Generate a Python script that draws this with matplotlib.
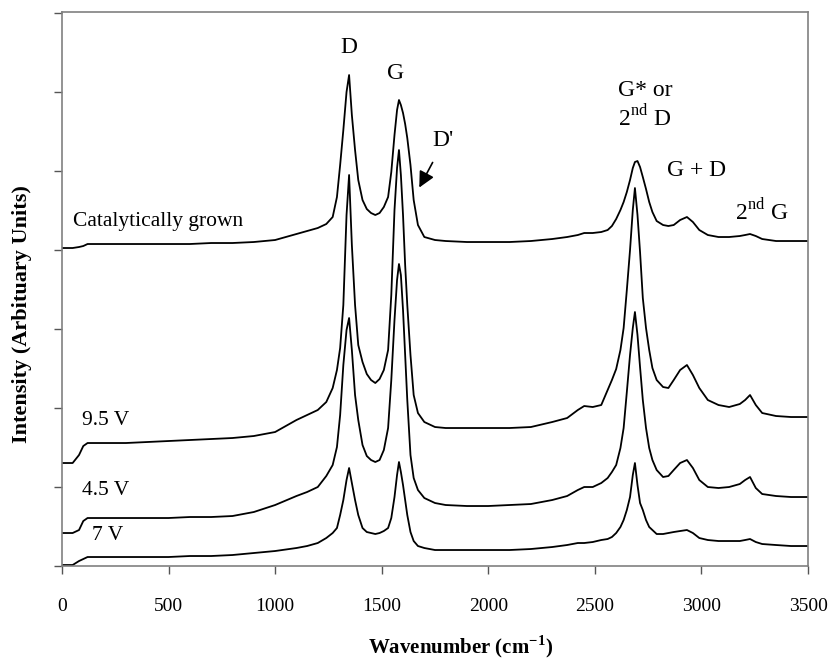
import numpy as np
import matplotlib
matplotlib.use("Agg")
import matplotlib.pyplot as plt

# Fuentes tipo Times, como en la figura original
plt.rcParams['font.family'] = ['Liberation Serif', 'DejaVu Serif']
plt.rcParams['mathtext.fontset'] = 'custom'
plt.rcParams['mathtext.rm'] = 'Liberation Serif'
plt.rcParams['mathtext.bf'] = 'Liberation Serif:bold'

# Eje x comun (cm-1)
wavenumber = [0, 50, 80, 100, 120, 200, 300, 400, 500, 600,
              700, 800, 900, 1000, 1100, 1150, 1200, 1240, 1270, 1290,
              1305, 1320, 1335, 1347, 1360, 1375, 1390, 1410, 1430, 1450,
              1470, 1490, 1510, 1530, 1545, 1560, 1572, 1581, 1590, 1600,
              1610, 1620, 1635, 1650, 1670, 1700, 1750, 1800, 1900, 2000,
              2100, 2200, 2300, 2370, 2420, 2450, 2490, 2530, 2560, 2580,
              2600, 2620, 2635, 2650, 2665, 2678, 2688, 2700, 2712, 2725,
              2740, 2755, 2770, 2790, 2820, 2845, 2870, 2900, 2932, 2960,
              2990, 3030, 3080, 3130, 3180, 3205, 3228, 3255, 3285, 3350,
              3420, 3500]

# Intensidades (unidades arbitrarias, con el desplazamiento de cada espectro)
catalytic = [318, 318, 319, 320, 322, 322, 322, 322, 322, 322,
             323, 323, 324, 326, 332, 335, 338, 342, 349, 369,
             401, 436, 474, 491, 451, 416, 386, 366, 357, 353,
             351, 353, 359, 369, 394, 431, 456, 466, 461, 453,
             442, 428, 401, 366, 341, 329, 326, 325, 324, 324,
             324, 325, 327, 329, 331, 333, 333, 334, 336, 340,
             347, 356, 364, 374, 386, 398, 404, 405, 399, 389,
             377, 364, 354, 345, 341, 340, 341, 346, 349, 344,
             336, 331, 329, 329, 330, 331, 332, 330, 327, 325,
             325, 325]
v95 = [103, 103, 111, 120, 123, 123, 123, 124, 125, 126,
       127, 128, 130, 134, 146, 151, 156, 164, 178, 196,
       218, 261, 351, 391, 321, 261, 221, 204, 192, 186,
       183, 187, 196, 216, 271, 356, 398, 416, 391, 351,
       301, 261, 211, 171, 153, 144, 139, 138, 138, 138,
       138, 139, 144, 148, 156, 160, 159, 161, 176, 186,
       197, 216, 238, 276, 316, 356, 378, 351, 314, 268,
       238, 216, 198, 186, 179, 178, 186, 196, 201, 191,
       178, 166, 161, 159, 162, 166, 171, 161, 153, 150,
       149, 149]
v45 = [33, 33, 36, 45, 48, 48, 48, 48, 48, 49,
       49, 50, 54, 61, 70, 74, 79, 90, 101, 119,
       151, 201, 236, 248, 216, 171, 146, 121, 110, 106,
       104, 106, 116, 138, 186, 246, 286, 302, 291, 256,
       211, 166, 111, 88, 76, 68, 63, 61, 60, 60,
       61, 62, 66, 70, 76, 79, 79, 83, 88, 94,
       101, 118, 138, 174, 211, 238, 254, 231, 199, 166,
       138, 118, 106, 96, 89, 90, 96, 103, 106, 98,
       86, 79, 78, 79, 82, 86, 89, 78, 72, 70,
       69, 69]
v7 = [1, 1, 5, 7, 9, 9, 9, 9, 9, 10,
      10, 11, 13, 15, 18, 20, 23, 28, 33, 38,
      51, 66, 86, 98, 83, 66, 51, 38, 34, 33,
      32, 33, 35, 38, 48, 69, 91, 104, 94, 81,
      66, 51, 34, 25, 20, 18, 16, 16, 16, 16,
      16, 17, 19, 21, 23, 23, 24, 26, 27, 29,
      33, 39, 46, 56, 69, 91, 103, 81, 63, 56,
      46, 39, 36, 32, 32, 33, 34, 35, 36, 33,
      28, 26, 25, 25, 25, 26, 27, 24, 22, 21,
      20, 20]

fig = plt.figure(figsize=(8.33, 6.6), dpi=100)
ax = fig.add_axes([0.0744, 0.1424, 0.8956, 0.8394])

for serie in (catalytic, v95, v45, v7):
    ax.plot(wavenumber, serie, color='black', lw=1.3)

ax.set_xlim(0, 3500)
ax.set_ylim(0, 554)
ax.set_xticks(np.arange(0, 3501, 500))
ax.set_yticks(np.arange(0, 554, 79))
ax.set_yticklabels([])
ax.tick_params(axis='both', direction='out', length=6, width=1, color='#555555',
               labelsize=14, pad=17)
for s in ax.spines.values():
    s.set_color('#808080')
    s.set_linewidth(1.2)

ax.set_ylabel('Intensity (Arbituary Units)', fontsize=16, fontweight='bold')
ax.yaxis.set_label_coords(-0.040, 0.455)
ax.set_xlabel(r'Wavenumber (cm$^{\mathbf{-1}}$)', fontsize=15, fontweight='bold')
ax.xaxis.set_label_coords(0.534, -0.122)

# Etiquetas de los espectros
fs = 15.5
ax.text(50, 345, 'Catalytically grown', fontsize=fs, va='center')
ax.text(94, 146, '9.5 V', fontsize=fs, va='center')
ax.text(94, 76, '4.5 V', fontsize=fs, va='center')
ax.text(141, 31, '7 V', fontsize=fs, va='center')

# Etiquetas de los picos
fp = 17
ax.text(1347, 519, 'D', fontsize=fp, ha='center', va='center')
ax.text(1567, 493, 'G', fontsize=fp, ha='center', va='center')
ax.text(1788, 426, "D'", fontsize=fp, ha='center', va='center')
ax.annotate('', xy=(1670, 376), xytext=(1745, 406),
            arrowprops=dict(arrowstyle='-|>', color='black', lw=1.2, mutation_scale=24))
ax.text(2609, 476, 'G* or', fontsize=fp, va='center')
ax.text(2609, 448, r'2$^{\mathrm{nd}}$ D', fontsize=fp, va='center')
ax.text(2839, 396, 'G + D', fontsize=fp, va='center')
ax.text(3158, 354, r'2$^{\mathrm{nd}}$ G', fontsize=fp, va='center')

fig.savefig('out.png', dpi=100)
